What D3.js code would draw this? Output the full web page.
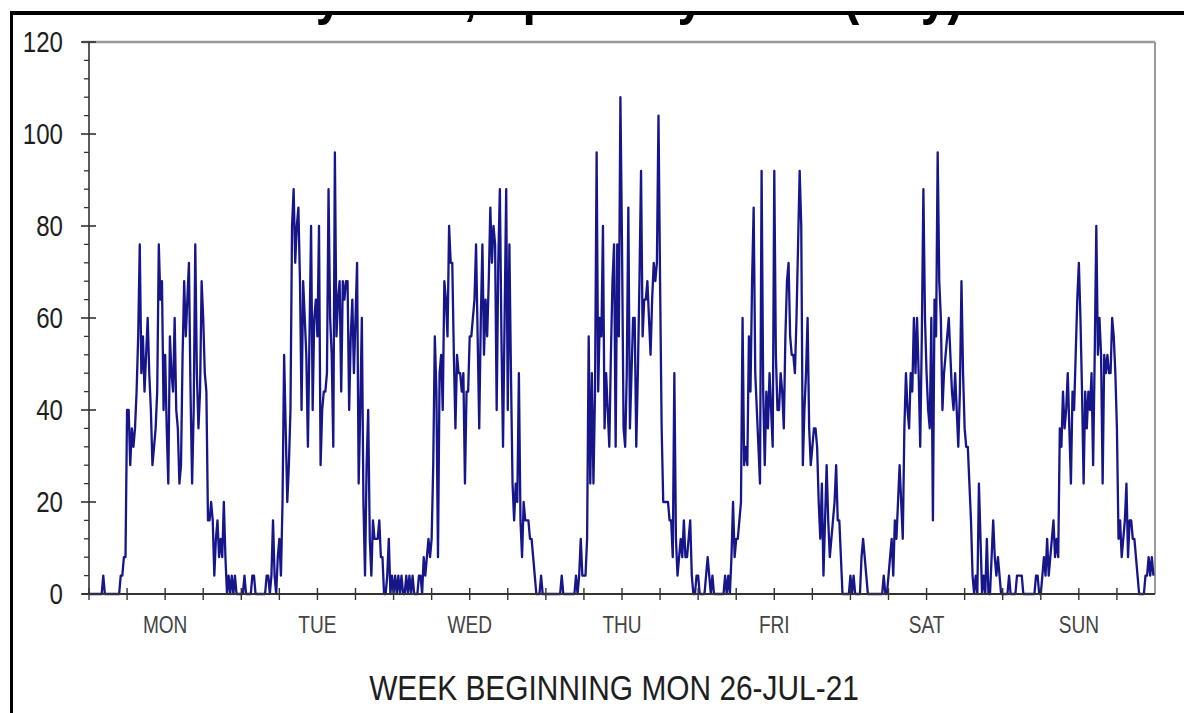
<!DOCTYPE html>
<html>
<head>
<meta charset="utf-8">
<script src="https://cdn.jsdelivr.net/npm/d3@7"></script>
<style>
  html, body { margin: 0; padding: 0; background: #fff; }
  svg { display: block; }
  text { font-family: "Liberation Sans", Arial, sans-serif; }
</style>
</head>
<body>
<svg id="chart" width="1184" height="713" xmlns="http://www.w3.org/2000/svg">
  <defs>
    <clipPath id="titleClip" clipPathUnits="userSpaceOnUse">
      <rect x="0" y="15" width="1184" height="30"></rect>
    </clipPath>
  </defs>
</svg>
<script>
// ---- Data: 15-minute hourly-rate counts, one array per day ----
const dayLabels = ["MON", "TUE", "WED", "THU", "FRI", "SAT", "SUN"];
const yTickValues = [0, 20, 40, 60, 80, 100, 120];
const xAxisTitle = "WEEK BEGINNING MON 26-JUL-21";
const chartTitle = "Hourly Flow, Speed by Hour (Day)";

const mon = [0,0,0,0,0,0,0,0,0,4, 0,0,0,0,0,0,0,0,0,0, 4,4,8,8,40,40,28,36,32,36,
  44,56,76,48,56,44,52,60,48,40, 28,32,36,44,76,64,68,40,52,36, 24,56,48,44,60,40,36,24,28,52,
  68,56,64,72,44,24,40,76,48,36, 44,68,60,48,44,16,16,20,16,4, 12,16,8,12,8,20,8,0,4,0,
  4,0,4,0,0,0];
const tue = [0,0,4,0,0,0,0,4,4,0, 0,0,0,0,0,0,4,4,0,4, 16,4,0,8,12,4,20,52,36,20,
  28,40,80,88,72,80,84,68,40,68, 60,52,32,56,80,40,60,64,56,80, 28,40,44,44,48,88,60,52,32,96,
  56,64,68,44,68,64,68,68,40,56, 64,48,60,72,24,40,60,20,4,28, 40,12,4,16,12,12,12,16,8,8,
  0,0,4,12,0,4];
const wed = [0,4,0,4,0,4,0,0,4,0, 4,0,4,0,0,0,4,4,0,8, 4,8,12,8,12,28,56,44,8,48,
  52,40,68,64,56,80,72,72,52,36, 52,48,48,44,48,24,44,44,56,56, 60,64,76,56,36,60,76,52,64,56,
  68,84,72,80,76,40,72,88,56,32, 60,88,40,76,48,24,16,24,20,48, 16,8,20,16,16,16,12,12,8,4,
  0,0,0,4,0,0];
const thu = [0,0,0,0,0,0,0,0,0,0, 4,0,0,0,0,0,0,0,0,4, 0,4,12,4,4,4,12,56,24,48,
  24,44,96,44,60,56,80,36,48,40, 32,52,68,76,32,76,56,108,76,36, 32,48,84,36,48,60,60,32,48,68,
  92,56,64,64,68,60,52,64,72,68, 72,104,68,36,20,20,20,20,16,16, 8,48,12,4,8,12,8,16,8,8,
  12,16,4,0,0,4];
const fri = [4,0,0,0,0,4,8,4,0,4, 0,0,0,0,0,0,0,4,0,4, 0,8,20,8,12,12,16,20,60,28,
  32,28,56,44,68,84,48,40,32,24, 92,44,28,44,36,48,40,32,92,52, 40,40,48,44,36,56,68,72,56,52,
  52,48,60,76,92,80,28,40,48,60, 36,28,32,36,36,32,20,12,24,4, 16,28,16,8,12,16,20,28,16,16,
  8,0,0,0,0,0];
const sat = [4,0,4,0,0,0,0,8,12,8, 4,0,0,0,0,0,0,0,0,0, 0,4,0,0,4,8,12,4,16,12,
  20,28,20,12,36,48,40,36,48,44, 60,48,60,48,32,56,88,60,48,40, 36,60,16,64,56,96,68,60,40,48,
  52,56,60,52,44,40,48,40,32,44, 68,48,36,32,32,24,16,4,0,4, 0,24,12,0,4,0,12,0,0,8,
  16,8,4,8,4,0];
const sun = [0,0,0,0,4,0,0,0,0,4, 4,4,4,0,0,0,0,0,0,0, 0,4,4,0,0,4,8,4,12,4,
  8,12,16,8,12,8,36,32,44,36, 40,48,36,24,44,40,52,64,72,60, 44,24,44,36,44,40,48,28,52,80,
  52,60,52,24,52,48,52,48,48,60, 56,48,36,12,16,8,12,16,24,8, 16,16,12,12,8,4,0,0,0,0,
  4,4,8,4,8,4];

const days = [mon, tue, wed, thu, fri, sat, sun];
const perDay = 96;
const values = days.flat();

// ---- Layout ----
const svg = d3.select("#chart");
const plotLeft = 89, plotRight = 1155, plotTop = 42, plotBottom = 594;
const sx = 0.83; // horizontal text compression seen in the reference

const x = d3.scaleLinear().domain([0, perDay * 7]).range([plotLeft, plotRight]);
const y = d3.scaleLinear().domain([0, 120]).range([plotBottom, plotTop]);

svg.insert("rect", "defs").attr("width", 1184).attr("height", 713).attr("fill", "#fff");

// title: the reference only shows the descenders below the top frame
svg.append("g").attr("clip-path", "url(#titleClip)")
  .append("g").attr("transform", `translate(190,13) scale(${sx},1)`)
  .append("text").attr("x", 0).attr("y", 0)
  .attr("font-size", 58).attr("font-weight", "bold").attr("fill", "#000")
  .text(chartTitle);
svg.append("rect").attr("x", 0).attr("y", 0).attr("width", 1184).attr("height", 11.5).attr("fill", "#fff");

// outer black frame (top & left)
svg.append("line").attr("x1", 10).attr("x2", 1184).attr("y1", 13).attr("y2", 13)
  .attr("stroke", "#000").attr("stroke-width", 4);
svg.append("line").attr("x1", 11.5).attr("x2", 11.5).attr("y1", 11).attr("y2", 713)
  .attr("stroke", "#000").attr("stroke-width", 3);

// plot frame (gray top / right)
svg.append("line").attr("x1", plotLeft - 7).attr("x2", plotRight).attr("y1", plotTop).attr("y2", plotTop)
  .attr("stroke", "#9a9a9a").attr("stroke-width", 2.5);
svg.append("line").attr("x1", plotRight).attr("x2", plotRight).attr("y1", plotTop).attr("y2", plotBottom)
  .attr("stroke", "#9a9a9a").attr("stroke-width", 2);

// data line
const line = d3.line().x((d, i) => x(i)).y(d => y(d));
svg.append("path").datum(values)
  .attr("d", line)
  .attr("fill", "none")
  .attr("stroke", "#16168a")
  .attr("stroke-width", 2.3)
  .attr("stroke-linejoin", "round");

// Y axis: minor ticks every 4, major every 20
const yMinor = d3.range(0, 121, 4).filter(v => v % 20 !== 0);
const yAxisG = svg.append("g");
yAxisG.append("line").attr("x1", plotLeft).attr("x2", plotLeft).attr("y1", plotTop).attr("y2", plotBottom)
  .attr("stroke", "#333").attr("stroke-width", 1.6);
yAxisG.selectAll(".ymin").data(yMinor).join("line")
  .attr("x1", plotLeft - 5).attr("x2", plotLeft).attr("y1", d => y(d)).attr("y2", d => y(d))
  .attr("stroke", "#333").attr("stroke-width", 1.3);
yAxisG.selectAll(".ymaj").data(yTickValues).join("line")
  .attr("x1", plotLeft - 8).attr("x2", plotLeft + 7).attr("y1", d => y(d)).attr("y2", d => y(d))
  .attr("stroke", "#333").attr("stroke-width", 1.6);
yAxisG.selectAll(".ylab").data(yTickValues).join("g")
  .attr("transform", d => `translate(63,${y(d)}) scale(${sx},1)`)
  .append("text")
  .attr("text-anchor", "end").attr("dy", "0.36em")
  .attr("font-size", 29).attr("fill", "#1e1e1e")
  .text(d => d);

// X axis: ticks every 6 hours, day labels at noon
const xTicks = d3.range(0, perDay * 7, perDay / 4);
const xAxisG = svg.append("g");
xAxisG.append("line").attr("x1", plotLeft - 7).attr("x2", plotRight).attr("y1", plotBottom).attr("y2", plotBottom)
  .attr("stroke", "#333").attr("stroke-width", 2);
xAxisG.selectAll(".xt").data(xTicks).join("line")
  .attr("x1", d => x(d)).attr("x2", d => x(d)).attr("y1", plotBottom - 6).attr("y2", plotBottom + 6)
  .attr("stroke", "#333").attr("stroke-width", 1.4);
xAxisG.selectAll(".xl").data(dayLabels).join("g")
  .attr("transform", (d, i) => `translate(${x(i * perDay + perDay / 2)},633) scale(${sx},1)`)
  .append("text")
  .attr("text-anchor", "middle")
  .attr("font-size", 23).attr("fill", "#444")
  .text(d => d);

// X axis title
svg.append("g").attr("transform", `translate(614,700) scale(${sx},1)`)
  .append("text").attr("text-anchor", "middle")
  .attr("font-size", 36).attr("fill", "#1e1e1e")
  .text(xAxisTitle);
</script>
</body>
</html>
